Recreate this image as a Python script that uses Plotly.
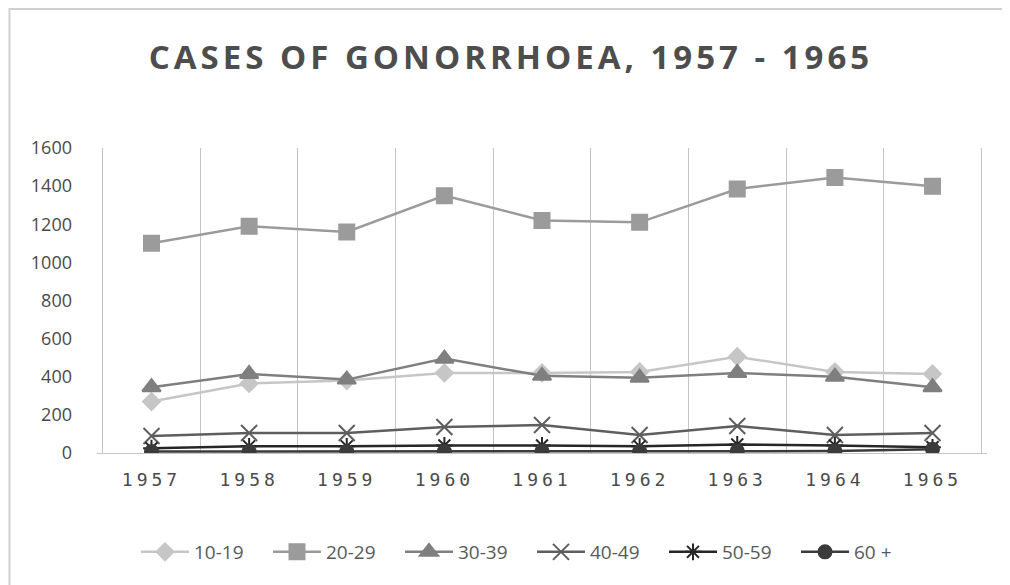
import plotly.graph_objects as go

years = ["1957", "1958", "1959", "1960", "1961", "1962", "1963", "1964", "1965"]
age_10_19 = [270, 365, 380, 420, 420, 425, 505, 425, 415]
age_20_29 = [1100, 1190, 1160, 1350, 1220, 1210, 1385, 1445, 1400]
age_30_39 = [345, 415, 385, 495, 405, 395, 420, 400, 345]
age_40_49 = [89, 105, 105, 136, 147, 94, 142, 94, 105]
age_50_59 = [25, 35, 35, 40, 40, 35, 45, 40, 30]
age_60_plus = [8, 8, 8, 8, 10, 8, 10, 10, 20]

series = [
    ("10-19", age_10_19, "#c6c6c6", "diamond", 13),
    ("20-29", age_20_29, "#9b9b9b", "square", 15),
    ("30-39", age_30_39, "#7f7f7f", "triangle-up", 16),
    ("40-49", age_40_49, "#5e5e5e", "x-thin-open", 16),
    ("50-59", age_50_59, "#262626", "asterisk-open", 14),
    ("60 +", age_60_plus, "#3b3b3b", "circle", 13),
]

fig = go.Figure()
for name, vals, color, sym, size in series:
    fig.add_trace(go.Scatter(
        x=years, y=vals, name=name, mode="lines+markers",
        line=dict(color=color, width=2.5),
        marker=dict(symbol=sym, size=size, color=color,
                    line=dict(color=color, width=2)),
    ))

# page body has an 8px margin; figure coords = screen coords - 8
OFF = 8
W, H = 1010 - OFF, 585 - OFF
L, T = 97 - OFF, 148 - OFF
R = W - (987 - OFF)
B = H - (453 - OFF)
pw, ph = W - L - R, H - T - B

def px_x(p):
    return (p - OFF - L) / pw

def px_y(p):
    return (H - B - (p - OFF)) / ph

title_txt = "CASES OF GONORRHOEA, 1957 - 1965"
tick_txt = ['<span style="letter-spacing:4px">%s</span>' % y for y in years]

fig.update_layout(
    width=W, height=H,
    margin=dict(l=L, r=R, t=T, b=B),
    paper_bgcolor="white", plot_bgcolor="white",
    title=dict(text='<b><span style="letter-spacing:4px">%s</span></b>' % title_txt,
               x=px_x(511), xanchor="center", xref="paper",
               y=1 - (57 - OFF) / H, yanchor="middle",
               font=dict(family="Open Sans", size=33, color="#4d4d4d")),
    showlegend=True,
    legend=dict(orientation="h", x=px_x(136), xanchor="left",
                y=px_y(552), yanchor="middle",
                font=dict(family="Open Sans", size=19, color="#595959"),
                itemwidth=48, entrywidth=69, entrywidthmode="pixels",
                tracegroupgap=0),
    xaxis=dict(type="category", tickson="boundaries", showgrid=True,
               gridcolor="#c4c4c4", gridwidth=1, ticks="", showline=True,
               linecolor="#c4c4c4", linewidth=1, zeroline=False,
               tickmode="array", tickvals=years, ticktext=tick_txt,
               tickfont=dict(family="DejaVu Sans Mono", size=18, color="#4a4a4a"),
               ticklabelstandoff=10),
    yaxis=dict(range=[0, 1600], dtick=200, showgrid=False, zeroline=False,
               showline=False, ticks="",
               tickfont=dict(family="Open Sans", size=18, color="#4a4a4a"),
               ticklabelstandoff=24),
    shapes=[dict(type="rect", xref="paper", yref="paper",
                 x0=px_x(9.5), x1=px_x(1014), y0=px_y(600), y1=px_y(9),
                 line=dict(color="#d0d0d0", width=2), layer="below")],
)

fig.write_html("out.html")
